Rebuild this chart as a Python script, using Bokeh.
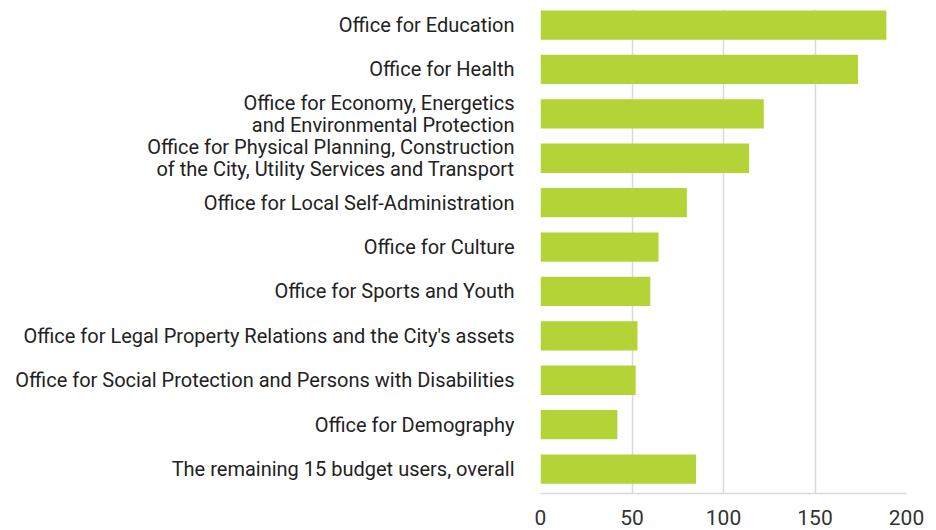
from bokeh.plotting import figure
from bokeh.models import ColumnDataSource, Range1d, FixedTicker
from bokeh.embed import file_html
from bokeh.resources import INLINE

categories = [
    "Office for Education",
    "Office for Health",
    "Office for Economy, Energetics\nand Environmental Protection",
    "Office for Physical Planning, Construction\nof the City, Utility Services and Transport",
    "Office for Local Self-Administration",
    "Office for Culture",
    "Office for Sports and Youth",
    "Office for Legal Property Relations and the City's assets",
    "Office for Social Protection and Persons with Disabilities",
    "Office for Demography",
    "The remaining 15 budget users, overall",
]
values = [189, 173.5, 122, 114, 80, 64.5, 60, 53, 52, 42, 85]
x_ticks = [0, 50, 100, 150, 200]

FONT = "Roboto"
n = len(categories)
ypos = [n - 1 - i for i in range(n)]
src = ColumnDataSource(dict(y=ypos, val=values, cat=categories))

p = figure(
    y_range=Range1d(-0.55, n - 1 + 0.35),
    x_range=Range1d(0, 200),
    width=930, height=530,
    output_backend="svg", toolbar_location=None,
    min_border_left=540, min_border_right=24, min_border_top=9, min_border_bottom=37,
)
p.hbar(y="y", right="val", left=0, height=0.66, source=src,
       color="#b4d336", line_color=None)

p.outline_line_color = None
p.ygrid.grid_line_color = None
p.xgrid.grid_line_color = "#d9d9d9"
p.xgrid.grid_line_width = 1.5
p.xaxis.ticker = FixedTicker(ticks=x_ticks)
p.xaxis.axis_line_color = "#d9d9d9"
p.xaxis.axis_line_width = 1.5
p.xaxis.major_tick_line_color = None
p.xaxis.minor_tick_line_color = None
p.xaxis.major_label_text_font = FONT
p.xaxis.major_label_text_font_size = "21px"
p.xaxis.major_label_text_color = "#333333"
p.xaxis.major_label_standoff = 10

p.yaxis.ticker = FixedTicker(ticks=ypos)
p.yaxis.major_label_overrides = {y: c for y, c in zip(ypos, categories)}
p.yaxis.axis_line_color = None
p.yaxis.major_tick_line_color = None
p.yaxis.minor_tick_line_color = None
p.yaxis.major_label_text_font = FONT
p.yaxis.major_label_text_font_size = "20px"
p.yaxis.major_label_text_color = "#222222"
p.yaxis.major_label_standoff = 20
p.yaxis.major_label_text_line_height = 0.9

open("out.html", "w").write(file_html(p, INLINE))
